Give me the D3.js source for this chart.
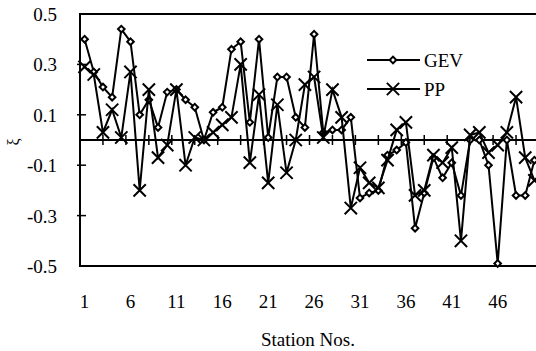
<!DOCTYPE html>
<html>
<head>
<meta charset="utf-8">
<script src="https://cdn.jsdelivr.net/npm/d3@7"></script>
<style>
  body { margin: 0; background: #fff; }
  svg { display: block; }
</style>
</head>
<body>
<div id="chart"></div>
<script>
const stations = d3.range(1, 51);

const gev = [0.40, 0.27, 0.21, 0.17, 0.44, 0.39, 0.10, 0.16, 0.05, 0.19,
  0.20, 0.16, 0.13, 0.00, 0.11, 0.13, 0.36, 0.39, 0.07, 0.40,
  0.01, 0.25, 0.25, 0.09, 0.05, 0.42, 0.03, 0.04, 0.04, 0.09,
  -0.23, -0.21, -0.20, -0.06, -0.04, -0.01, -0.35, -0.21, -0.07, -0.15,
  -0.09, -0.22, 0.00, 0.00, -0.10, -0.49, 0.00, -0.22, -0.22, -0.08];

const pp = [0.29, 0.26, 0.03, 0.12, 0.01, 0.27, -0.20, 0.20, -0.07, -0.02,
  0.20, -0.10, 0.01, 0.00, 0.03, 0.06, 0.09, 0.30, -0.09, 0.18,
  -0.17, 0.14, -0.13, 0.00, 0.22, 0.25, 0.01, 0.20, 0.09, -0.27,
  -0.11, -0.17, -0.19, -0.08, 0.04, 0.07, -0.22, -0.20, -0.06, -0.09,
  -0.03, -0.40, 0.02, 0.03, -0.05, -0.02, 0.03, 0.17, -0.07, -0.16];

const xTickLabels = [1, 6, 11, 16, 21, 26, 31, 36, 41, 46];
const yTickValues = [0.5, 0.3, 0.1, -0.1, -0.3, -0.5];

const width = 536;
const height = 351;
const plotLeft = 80, plotTop = 14, plotBottom = 266;
const serif = "'Times New Roman', 'Liberation Serif', Tinos, 'Noto Serif', 'DejaVu Serif', serif";

const x = d3.scaleLinear().domain([0.5, 50.5]).range([plotLeft, 539]);
const y = d3.scaleLinear().domain([-0.5, 0.5]).range([plotBottom, plotTop]);

const svg = d3.select("#chart")
  .append("svg")
  .attr("width", width)
  .attr("height", height)
  .style("font-family", serif);

// frame (right side falls outside the picture)
svg.append("path")
  .attr("d", `M${x(50.5) + 4},${plotTop}H${plotLeft}V${plotBottom}H${x(50.5) + 4}`)
  .attr("fill", "none")
  .attr("stroke", "#000")
  .attr("stroke-width", 2);

// y ticks + labels
svg.selectAll(".ytick")
  .data(yTickValues.filter((d) => Math.abs(d) < 0.5))
  .join("line")
  .attr("x1", plotLeft - 3)
  .attr("x2", plotLeft + 6)
  .attr("y1", (d) => y(d))
  .attr("y2", (d) => y(d))
  .attr("stroke", "#000")
  .attr("stroke-width", 1.5);

svg.selectAll(".ylab")
  .data(yTickValues)
  .join("text")
  .attr("x", 57)
  .attr("y", (d) => y(d) + 7)
  .attr("text-anchor", "end")
  .attr("font-size", 19)
  .text((d) => d.toFixed(1));

// zero line with crossing ticks
svg.append("line")
  .attr("x1", plotLeft)
  .attr("x2", width)
  .attr("y1", y(0))
  .attr("y2", y(0))
  .attr("stroke", "#000")
  .attr("stroke-width", 2);

svg.selectAll(".xtick")
  .data(d3.range(0, 21).map((k) => 0.5 + 2.5 * k))
  .join("line")
  .attr("x1", (d) => x(d))
  .attr("x2", (d) => x(d))
  .attr("y1", y(0) - 5)
  .attr("y2", y(0) + 5)
  .attr("stroke", "#000")
  .attr("stroke-width", 1.5);

svg.selectAll(".xlab")
  .data(xTickLabels)
  .join("text")
  .attr("x", (d) => x(d))
  .attr("y", 308)
  .attr("text-anchor", "middle")
  .attr("font-size", 19)
  .text((d) => d);

svg.append("text")
  .attr("x", 308)
  .attr("y", 346)
  .attr("text-anchor", "middle")
  .attr("font-size", 19)
  .text("Station Nos.");

svg.append("text")
  .attr("transform", "translate(19,142) rotate(-90)")
  .attr("text-anchor", "middle")
  .attr("font-size", 16)
  .text("ξ");

// series
const line = d3.line()
  .x((d, i) => x(stations[i]))
  .y((d) => y(d));

// small square turned on its corner, like the spreadsheet diamond
const diamond = d3.symbol(d3.symbolSquare, 22);
const cross = d3.symbol(d3.symbolX, 100);

const plot = svg.append("g");

plot.append("path")
  .attr("d", line(gev))
  .attr("fill", "none")
  .attr("stroke", "#000")
  .attr("stroke-width", 2);

plot.selectAll(".gev")
  .data(gev)
  .join("path")
  .attr("transform", (d, i) => `translate(${x(stations[i])},${y(d)}) rotate(45)`)
  .attr("d", diamond)
  .attr("fill", "#fff")
  .attr("stroke", "#000")
  .attr("stroke-width", 2);

plot.append("path")
  .attr("d", line(pp))
  .attr("fill", "none")
  .attr("stroke", "#000")
  .attr("stroke-width", 2);

plot.selectAll(".pp")
  .data(pp)
  .join("path")
  .attr("transform", (d, i) => `translate(${x(stations[i])},${y(d)})`)
  .attr("d", cross)
  .attr("fill", "none")
  .attr("stroke", "#000")
  .attr("stroke-width", 2);

// legend
const legend = svg.append("g");
const items = [
  { name: "GEV", sym: diamond, fill: "#fff", rot: 45, ly: 60 },
  { name: "PP", sym: cross, fill: "none", rot: 0, ly: 89 },
];

items.forEach((it) => {
  legend.append("line")
    .attr("x1", 367).attr("x2", 420)
    .attr("y1", it.ly).attr("y2", it.ly)
    .attr("stroke", "#000")
    .attr("stroke-width", 2);
  legend.append("path")
    .attr("transform", `translate(393,${it.ly}) rotate(${it.rot})`)
    .attr("d", it.sym)
    .attr("fill", it.fill)
    .attr("stroke", "#000")
    .attr("stroke-width", 2);
  legend.append("text")
    .attr("x", 424)
    .attr("y", it.ly + 7)
    .attr("font-size", 19)
    .text(it.name);
});
</script>
</body>
</html>
